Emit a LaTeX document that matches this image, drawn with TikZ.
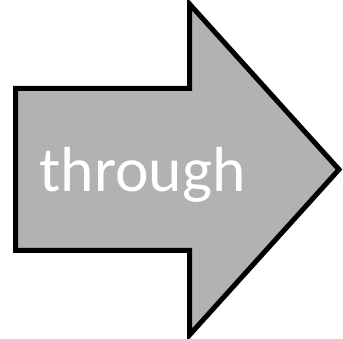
\documentclass[tikz,border=0pt]{standalone}
\usepackage{fontspec}
\setmainfont{Carlito}
\usetikzlibrary{positioning}
\definecolor{arrowgray}{RGB}{178,178,178}
\begin{document}
\begin{tikzpicture}[x=1pt,y=-1pt]
  \useasboundingbox (0,0) rectangle (343,339);
  % big arrow
  \draw[line width=5pt,line join=miter,fill=arrowgray]
    (15.5,88.5) -- (189.5,88.5) -- (189.5,4) -- (339,169.5)
    -- (189.5,335) -- (189.5,250.5) -- (15.5,250.5) -- cycle;
  % label
  \node[anchor=base west,inner sep=0pt,text=white,font=\fontsize{63.5}{70}\selectfont] (label) at (39.5,192) {through};
\end{tikzpicture}
\end{document}
